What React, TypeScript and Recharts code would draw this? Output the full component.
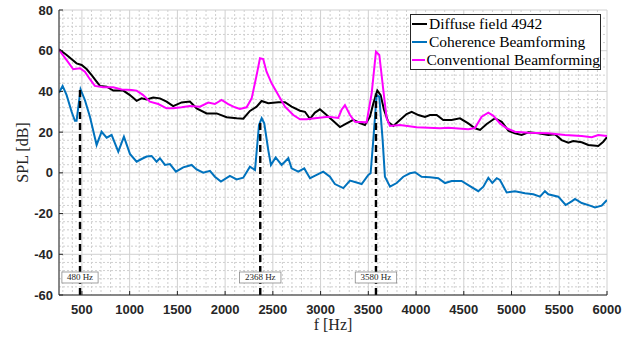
import { LineChart, Line, XAxis, YAxis, CartesianGrid, ReferenceLine, ReferenceDot, Legend } from 'recharts'

const diffuseFreq = [260, 340, 444, 497, 549, 602, 654, 689, 759, 828, 933, 1003, 1073, 1125, 1178, 1247, 1317, 1387, 1456, 1544, 1631, 1701, 1806, 1911, 2016, 2121, 2190, 2260, 2330, 2382, 2452, 2557, 2627, 2696, 2784, 2836, 2889, 2941, 2993, 3063, 3133, 3203, 3273, 3342, 3412, 3465, 3517, 3552, 3594, 3629, 3664, 3709, 3762, 3831, 3901, 3954, 4024, 4093, 4146, 4216, 4285, 4373, 4460, 4547, 4617, 4670, 4740, 4827, 4897, 4967, 5036, 5106, 5176, 5281, 5385, 5455, 5525, 5595, 5647, 5735, 5804, 5909, 5961, 6000]
const diffuseSpl = [60.7, 57.9, 53.8, 53, 51, 48, 44.8, 42.7, 42.3, 40.4, 40.4, 38.2, 35.4, 36.6, 36, 37, 36.6, 35, 32.8, 34.6, 35, 31.7, 29.2, 29.2, 27.3, 26.8, 26.6, 30.4, 32.5, 35.3, 34.2, 34.7, 34.7, 32.5, 30.5, 30, 26.5, 29.6, 31.2, 28.4, 25.5, 22.5, 24.3, 26, 24.5, 23.5, 27.6, 34, 40.5, 38.2, 31, 25, 23, 26, 28.9, 30, 28.4, 27.5, 28.4, 28.4, 26, 26, 26.8, 24.3, 21.9, 21.1, 24, 26.8, 25.1, 20.7, 19.4, 18.6, 19.9, 19.4, 18.6, 19, 16.1, 14.8, 15.6, 15, 13.7, 13.2, 15.3, 17.5]

const coherenceFreq = [260, 298, 340, 392, 427, 444, 486, 531, 584, 654, 706, 759, 811, 881, 940, 1003, 1073, 1125, 1178, 1230, 1282, 1317, 1370, 1422, 1485, 1561, 1649, 1701, 1771, 1841, 1893, 1956, 2050, 2121, 2190, 2260, 2313, 2355, 2383, 2410, 2452, 2480, 2529, 2592, 2662, 2696, 2766, 2829, 2889, 2959, 3028, 3098, 3150, 3238, 3308, 3395, 3430, 3500, 3524, 3552, 3587, 3615, 3650, 3674, 3727, 3797, 3866, 3936, 3989, 4058, 4146, 4233, 4303, 4373, 4477, 4547, 4652, 4705, 4757, 4799, 4845, 4879, 4949, 5036, 5141, 5228, 5298, 5350, 5385, 5490, 5567, 5630, 5665, 5735, 5822, 5874, 5944, 6000]
const coherenceSpl = [39.4, 42.7, 38.2, 30, 25.6, 25.6, 41, 35.8, 27.6, 13.7, 20.2, 17.3, 18.6, 10.4, 17.8, 9.3, 5.5, 6.8, 8, 8.3, 5.5, 7.2, 3.9, 4.3, 0.6, 2.7, 3.9, 1.7, 0.1, 1, -1.9, -4.3, -1.5, -3.2, -2.4, 3, 1.4, 23.5, 26.8, 24.3, 11.2, 3.9, 7.6, 3.9, 7.2, 2.2, 0.6, 2.2, -2.6, -1, 0.6, -1.9, -5.5, -7.5, -3.8, -5, -5.5, -1, -0.2, 16.1, 38.2, 37.3, 16.1, -1.9, -6.8, -5, -1.9, -0.2, 0.3, -1.9, -2.2, -2.6, -5, -4, -4, -6, -9, -6.8, -2.4, -5, -2.6, -3.5, -9.6, -9, -10, -10.5, -11.7, -9, -10.5, -11.7, -15.8, -14, -12.8, -14.8, -16.1, -17, -16.1, -13.3]

const conventionalFreq = [260, 340, 409, 479, 531, 584, 636, 723, 828, 916, 1021, 1073, 1142, 1212, 1300, 1387, 1456, 1544, 1631, 1736, 1823, 1893, 1963, 2033, 2103, 2155, 2225, 2278, 2330, 2365, 2399, 2434, 2487, 2557, 2627, 2714, 2784, 2854, 2941, 3080, 3185, 3220, 3255, 3308, 3360, 3482, 3535, 3580, 3615, 3657, 3692, 3727, 3831, 4006, 4251, 4338, 4547, 4617, 4687, 4757, 4810, 4879, 4949, 5036, 5176, 5385, 5560, 5735, 5840, 5909, 6000]
const conventionalSpl = [60.4, 55.4, 50.9, 51.4, 49.7, 46, 42.7, 42, 42, 41, 40.7, 40.4, 38.2, 35, 33.8, 31.7, 31.7, 32.2, 32.8, 32.5, 34.5, 33.8, 35.8, 33.8, 32.2, 31.4, 32.2, 36.6, 48, 56.3, 55.9, 49.7, 44, 38.2, 32.5, 28.4, 26.3, 26.3, 26.8, 27.6, 27, 31, 33.3, 28.4, 25.1, 24.8, 39.1, 59.5, 57.9, 40.7, 26.8, 23, 23.5, 22.4, 21.9, 22.2, 21.4, 22, 27.6, 29.6, 28, 24.3, 21.9, 20.2, 19.7, 19.4, 18.6, 18.1, 17.5, 18.6, 18.1]

const seriesNames = ['Diffuse field 4942', 'Coherence Beamforming', 'Conventional Beamforming']
const seriesColors = ['#000000', '#0072BD', '#FF00FF']

const markerFreqs = [480, 2368, 3580]
const markerTops = [41.7, 26, 39]
const markerLabels = ['480 Hz', '2368 Hz', '3580 Hz']

const xDomain = [260, 6000]
const yDomain = [-60, 80]
const xTicks = [500, 1000, 1500, 2000, 2500, 3000, 3500, 4000, 4500, 5000, 5500, 6000]
const yTicks = [-60, -40, -20, 0, 20, 40, 60, 80]

const toPoints = (f: number[], v: number[]) => f.map((x, i) => ({ f: x, spl: v[i] }))
const series = [
  toPoints(diffuseFreq, diffuseSpl),
  toPoints(coherenceFreq, coherenceSpl),
  toPoints(conventionalFreq, conventionalSpl),
]

// minor grid: every 100 Hz / 4 dB
const minorX: number[] = []
for (let v = 300; v < 6000; v += 100) if (v % 500 !== 0) minorX.push(v)
const minorY: number[] = []
for (let v = -56; v < 80; v += 4) if (v % 20 !== 0) minorY.push(v)

const tickStyle = { fontFamily: 'Liberation Sans, Arial, sans-serif', fontWeight: 700, fontSize: 13, fill: '#262626' }
const serif = 'Liberation Serif, Times New Roman, serif'

function MarkerBox(props: any) {
  const { cx, cy, label } = props
  const w = label.length * 5.2 + 5
  return (
    <g>
      <rect x={cx - w / 2} y={cy - 5.5} width={w} height={11} fill="#fff" stroke="#8a8a8a" strokeWidth={0.8} />
      <text x={cx} y={cy + 3} textAnchor="middle" fontFamily={serif} fontSize={9} fill="#262626">{label}</text>
    </g>
  )
}

function LegendBox() {
  return (
    <div style={{ border: '1px solid #262626', background: '#fff', width: 191, boxSizing: 'border-box' }}>
      {seriesNames.map((n, i) => (
        <div key={n} style={{ display: 'flex', alignItems: 'center', height: 18 }}>
          <div style={{ width: 15, height: 2, background: seriesColors[i], marginLeft: 1, marginRight: 2 }} />
          <span style={{ fontFamily: serif, fontSize: 15.5, color: '#000', whiteSpace: 'nowrap', lineHeight: '18px' }}>{n}</span>
        </div>
      ))}
    </div>
  )
}

export default function App() {
  return (
    <div style={{ position: 'absolute', left: 0, top: 0, background: '#fff' }}>
      <LineChart width={635} height={337} margin={{ top: 10, right: 28, bottom: 0, left: 0 }}>
        <CartesianGrid
          stroke="#cfcfcf"
          strokeDasharray="2 2"
          verticalCoordinatesGenerator={({ offset }: any) =>
            minorX.map(v => offset.left + ((v - xDomain[0]) / (xDomain[1] - xDomain[0])) * offset.width)
          }
          horizontalCoordinatesGenerator={({ offset }: any) =>
            minorY.map(v => offset.top + ((yDomain[1] - v) / (yDomain[1] - yDomain[0])) * offset.height)
          }
        />
        <CartesianGrid stroke="#d0d0d0" />
        <XAxis
          dataKey="f"
          type="number"
          domain={xDomain}
          ticks={xTicks}
          allowDataOverflow
          height={42}
          tick={tickStyle}
          tickSize={-4}
          tickMargin={14}
          stroke="#262626"
          label={(p: any) => (
            <text x={p.viewBox.x + p.viewBox.width / 2} y={330} textAnchor="middle" fontFamily={serif} fontSize={16} fill="#262626">f [Hz]</text>
          )}
        />
        <XAxis xAxisId="top" orientation="top" type="number" domain={xDomain} ticks={xTicks} allowDataOverflow height={0} tickSize={-4} tickFormatter={() => ''} stroke="#262626" />
        <YAxis
          type="number"
          domain={yDomain}
          ticks={yTicks}
          allowDataOverflow
          width={59}
          tick={tickStyle}
          tickSize={-4}
          tickMargin={10}
          stroke="#262626"
          label={(p: any) => (
            <text
              x={22}
              y={p.viewBox.y + p.viewBox.height / 2}
              transform={`rotate(-90, 22, ${p.viewBox.y + p.viewBox.height / 2})`}
              textAnchor="middle"
              dominantBaseline="central"
              fontFamily={serif}
              fontSize={16}
              fill="#262626"
            >SPL [dB]</text>
          )}
        />
        <YAxis yAxisId="right" orientation="right" type="number" domain={yDomain} ticks={yTicks} allowDataOverflow width={0} tickSize={-4} tickFormatter={() => ''} stroke="#262626" />
        {series.map((d, i) => (
          <Line
            key={seriesNames[i]}
            data={d}
            dataKey="spl"
            name={seriesNames[i]}
            stroke={seriesColors[i]}
            strokeWidth={2}
            dot={false}
            activeDot={false}
            type="linear"
            isAnimationActive={false}
          />
        ))}
        {markerFreqs.map((f, i) => (
          <ReferenceLine
            key={'l' + f}
            segment={[{ x: f, y: -60 }, { x: f, y: markerTops[i] }]}
            stroke="#000"
            strokeWidth={2.4}
            strokeDasharray="7 4"
          />
        ))}
        {markerFreqs.map((f, i) => (
          <ReferenceDot key={'d' + f} x={f} y={-51.4} r={0} shape={(p: any) => <MarkerBox {...p} label={markerLabels[i]} />} />
        ))}
        <Legend
          layout="vertical"
          align="center"
          verticalAlign="middle"
          content={() => <LegendBox />}
          wrapperStyle={{ position: 'absolute', top: 14, left: 410, width: 191 }}
        />
      </LineChart>
    </div>
  )
}
